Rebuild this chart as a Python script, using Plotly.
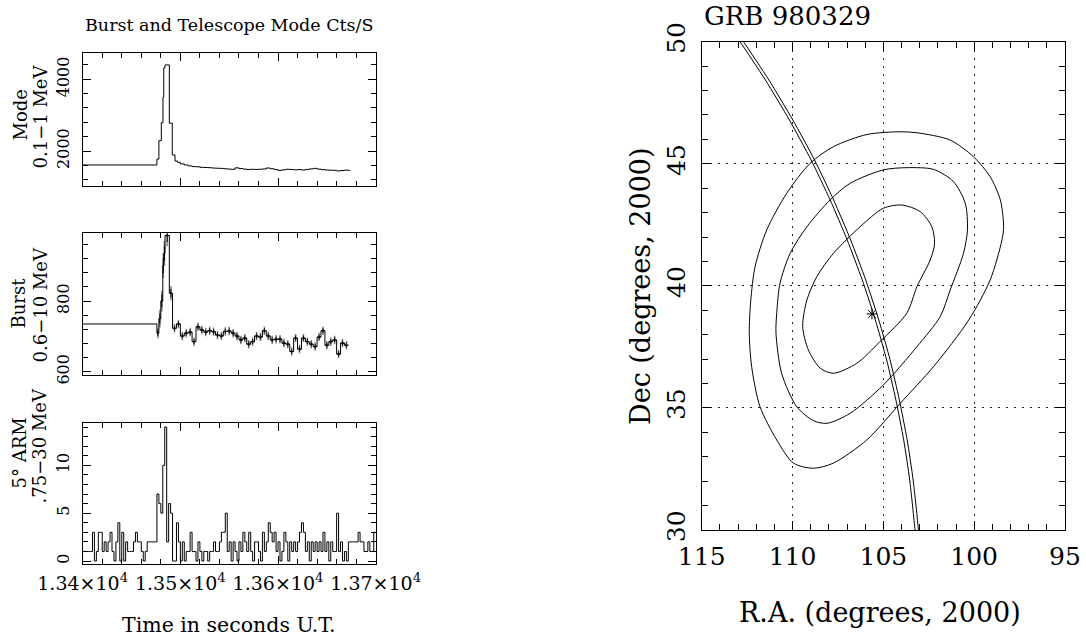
import plotly.graph_objects as go

W, H = 1086, 636
FONT = "DejaVu Serif"

# ---------------- data: telescope mode 0.1-1 MeV ----------------
tele_time = [13400, 13476, 13478, 13480.5, 13482.2, 13483, 13484.3, 13488.7, 13491.7,
             13494.5, 13497,
             13500, 13504, 13508, 13512, 13516, 13520, 13524, 13528, 13532, 13536,
             13540, 13544, 13548, 13552, 13556, 13560, 13564, 13568, 13572, 13576,
             13580, 13584, 13588, 13592, 13596, 13600, 13604, 13608, 13612, 13616,
             13620, 13624, 13628, 13632, 13636, 13640, 13644, 13648, 13652, 13656,
             13660, 13664, 13668, 13672]
tele_counts = [1610, 1775, 2290, 2790, 3500, 4320, 4400, 2775, 1890,
               1720, 1685,
               1640, 1610, 1585, 1565, 1560, 1545, 1540, 1535, 1525, 1520,
               1515, 1505, 1495, 1490, 1530, 1510, 1495, 1485, 1490, 1485,
               1490, 1500, 1525, 1505, 1480, 1460, 1475, 1490, 1485, 1475,
               1480, 1470, 1485, 1500, 1515, 1495, 1480, 1470, 1465, 1460,
               1445, 1455, 1465, 1460]
tele_end = 13674

# ---------------- data: burst mode 0.6-10 MeV ----------------
burst_time = [13400, 13476, 13478, 13480, 13482, 13483, 13484.3, 13488.7,
              13492, 13496, 13500, 13504, 13508, 13512, 13516, 13520, 13524, 13528,
              13532, 13536, 13540, 13544, 13548, 13552, 13556, 13560, 13564, 13568,
              13572, 13576, 13580, 13584, 13588, 13592, 13596, 13600, 13604, 13608,
              13612, 13616, 13620, 13624, 13628, 13632, 13636, 13640, 13644, 13648,
              13652, 13656, 13660, 13664, 13668]
burst_counts = [735, 709, 750, 800, 900, 935, 985, 822,
                723, 735, 701, 709, 712, 685, 727, 718, 712, 716,
                713, 704, 701, 714, 715, 709, 701, 690, 695, 678,
                685, 701, 698, 716, 701, 690, 692, 692, 681, 678,
                657, 695, 664, 695, 685, 678, 671, 698, 716, 675,
                685, 690, 650, 681, 675]
burst_errors = [0, 14, 25, 30, 35, 35, 30, 20,
                12, 12, 12, 12, 12, 12, 12, 12, 12, 12,
                12, 12, 12, 12, 12, 12, 12, 12, 12, 12,
                12, 12, 12, 12, 12, 12, 12, 12, 12, 12,
                12, 12, 12, 12, 12, 12, 12, 12, 12, 12,
                12, 12, 12, 12, 12]
burst_end = 13672

# ---------------- data: 5 deg ARM .75-30 MeV (2 s bins) ----------------
arm_start = 13400
arm_bin = 2
arm_counts = [1, 1, 1, 1, 1, 3, 0, 1, 3, 3,
              1, 2, 1, 2, 3, 1, 0, 2, 4, 0,
              3, 0, 2, 1, 1, 1, 2, 3, 2, 2,
              1, 0, 1, 2, 2, 2, 2, 2, 7, 6,
              5, 10, 14, 2, 6, 5, 0, 0, 4, 2,
              0, 2, 0, 1, 1, 3, 1, 1, 0, 2,
              1, 0, 1, 1, 0, 1, 1, 2, 1, 1,
              2, 3, 3, 5, 1, 2, 0, 2, 1, 0,
              2, 1, 3, 2, 1, 3, 1, 0, 2, 2,
              1, 0, 3, 1, 2, 4, 3, 2, 3, 1,
              2, 0, 1, 3, 2, 0, 2, 1, 2, 1,
              2, 3, 4, 3, 1, 2, 0, 2, 1, 2,
              1, 2, 1, 3, 1, 2, 0, 2, 1, 1,
              5, 1, 2, 0, 1, 0, 2, 2, 2, 2,
              2, 3, 2, 2, 1, 1, 2, 1, 1, 3]

time_ticks = [13400, 13500, 13600, 13700]
time_labels = ["1.34×10<sup>4</sup>", "1.35×10<sup>4</sup>",
               "1.36×10<sup>4</sup>", "1.37×10<sup>4</sup>"]

# ---------------- data: GRB 980329 localisation ----------------
ann1_ra = [113.35, 112.89, 111.49, 110.17, 108.98, 107.93, 106.99, 106.16, 105.44,
           104.82, 104.31, 103.88, 103.55, 103.26, 103.21]
ann1_dec = [50.48, 50.0, 48.43, 46.79, 45.16, 43.52, 41.88, 40.24, 38.60,
            36.97, 35.33, 33.69, 32.05, 30.0, 29.39]
ann2_ra = [113.16, 112.70, 111.30, 109.98, 108.79, 107.74, 106.80, 105.97, 105.25,
           104.63, 104.12, 103.69, 103.36, 103.07, 103.02]
ann2_dec = ann1_dec

outer_ra = [104.08, 103.15, 101.32, 100.04, 99.12, 98.56, 98.38, 98.47, 99.12, 100.3,
            102.24, 104.07, 105.91, 107.75, 108.85, 109.95, 110.87, 111.79, 112.25,
            112.38, 112.3, 112.06, 111.42, 110.32, 109.03, 107.75, 105.9, 104.08]
outer_dec = [46.31, 46.27, 45.97, 45.29, 44.47, 43.52, 42.43, 41.88, 40.24, 38.6,
             36.69, 35.19, 33.69, 32.74, 32.53, 32.74, 33.69, 35.05, 36.69,
             38.06, 39.4, 40.79, 42.29, 43.79, 45.02, 45.7, 46.2, 46.31]

middle_ra = [103.71, 102.24, 101.14, 100.49, 100.37, 100.59, 101.32, 101.87, 103.15,
             105.0, 106.83, 108.11, 108.85, 109.77, 110.6, 110.91, 110.87, 110.69,
             110.13, 109.21, 107.93, 106.83, 105.0, 103.71]
middle_dec = [44.84, 44.77, 44.27, 43.38, 42.29, 41.33, 39.83, 38.74, 37.51,
              35.94, 34.78, 34.37, 34.48, 35.05, 36.42, 38.06, 38.88, 40.1,
              41.33, 42.42, 43.52, 44.2, 44.75, 44.84]

inner_ra = [103.98, 102.97, 102.33, 102.18, 102.42, 103.15, 103.71, 105.18, 106.46,
            107.75, 108.48, 109.13, 109.44, 109.21, 108.66, 107.75, 106.28, 105.0, 103.98]
inner_dec = [43.31, 43.04, 42.42, 41.74, 41.06, 39.97, 38.88, 37.72, 36.83,
             36.42, 36.63, 37.38, 38.33, 39.42, 40.38, 41.33, 42.42, 43.18, 43.31]

star_ra = [105.63]
star_dec = [38.85]


def px_x(p):
    return p / W


def px_y(p):
    return 1 - p / H


fig = go.Figure()
BLACK = "black"

# panel 1 (telescope mode)
fig.add_trace(go.Scatter(x=tele_time + [tele_end], y=tele_counts + [tele_counts[-1]],
                         mode="lines", line=dict(color=BLACK, width=1, shape="hv"),
                         xaxis="x", yaxis="y", showlegend=False))

# panel 2 (burst mode)
b_edges = burst_time + [burst_end]
b_centers = [(b_edges[i] + b_edges[i + 1]) / 2 for i in range(1, len(burst_time))]
b_half = [(b_edges[i + 1] - b_edges[i]) / 2 for i in range(1, len(burst_time))]
fig.add_trace(go.Scatter(x=b_centers, y=burst_counts[1:], mode="markers",
                         marker=dict(size=0.1, color="#888"),
                         error_y=dict(type="data", array=burst_errors[1:], color="#8a8a8a",
                                      thickness=1.6, width=0),
                         xaxis="x2", yaxis="y2", showlegend=False))
fig.add_trace(go.Scatter(x=b_edges, y=burst_counts + [burst_counts[-1]],
                         mode="lines", line=dict(color=BLACK, width=1, shape="hv"),
                         xaxis="x2", yaxis="y2", showlegend=False))
fig.add_trace(go.Scatter(x=b_centers, y=burst_counts[1:], mode="markers",
                         marker=dict(size=0.1, color=BLACK),
                         error_y=dict(type="data", array=[e * 0.6 for e in burst_errors[1:]],
                                      color=BLACK, thickness=1, width=0),
                         error_x=dict(type="data", array=b_half, color=BLACK,
                                      thickness=1, width=0),
                         xaxis="x2", yaxis="y2", showlegend=False))

# panel 3 (ARM)
arm_edges = [arm_start + arm_bin * i for i in range(len(arm_counts) + 1)]
fig.add_trace(go.Scatter(x=arm_edges, y=arm_counts + [arm_counts[-1]],
                         mode="lines", line=dict(color=BLACK, width=1, shape="hv"),
                         xaxis="x3", yaxis="y3", showlegend=False))

# right panel
for ra, dec in [(outer_ra, outer_dec), (middle_ra, middle_dec), (inner_ra, inner_dec)]:
    fig.add_trace(go.Scatter(x=ra, y=dec, mode="lines",
                             line=dict(color=BLACK, width=1, shape="spline", smoothing=0.8),
                             xaxis="x4", yaxis="y4", showlegend=False))
for ra, dec in [(ann1_ra, ann1_dec), (ann2_ra, ann2_dec)]:
    fig.add_trace(go.Scatter(x=ra, y=dec, mode="lines",
                             line=dict(color=BLACK, width=1, shape="spline", smoothing=0.6),
                             xaxis="x4", yaxis="y4", showlegend=False))
fig.add_trace(go.Scatter(x=star_ra, y=star_dec, mode="markers",
                         marker=dict(symbol="asterisk-open", size=9, color=BLACK,
                                     line=dict(color=BLACK, width=1)),
                         xaxis="x4", yaxis="y4", showlegend=False))

tick_font = dict(family=FONT, size=16, color=BLACK)
xtick_font = dict(family=FONT, size=19, color=BLACK)
big_font = dict(family=FONT, size=25, color=BLACK)

left_dom = [px_x(82.7), px_x(375.7)]
common = dict(showline=True, linecolor=BLACK, linewidth=1, mirror="ticks",
              ticks="inside", tickcolor=BLACK, zeroline=False, showgrid=False,
              automargin=False)


def time_axis(anchor, show_labels):
    return dict(domain=left_dom, anchor=anchor, range=[13400, 13700],
                tickmode="array", tickvals=time_ticks, ticktext=time_labels,
                showticklabels=show_labels, ticklen=8, tickfont=xtick_font,
                ticklabelstandoff=2,
                minor=dict(tickmode="linear", tick0=13400, dtick=20, ticks="inside",
                           ticklen=5, tickcolor=BLACK, showgrid=False),
                **common)


grid_dash = "2px,6px"

fig.update_layout(
    width=W, height=H, margin=dict(l=0, r=0, t=0, b=0, autoexpand=False),
    plot_bgcolor="white", paper_bgcolor="white", showlegend=False,
    xaxis=time_axis("y", False),
    xaxis2=time_axis("y2", False),
    xaxis3=time_axis("y3", True),
    yaxis=dict(domain=[px_y(185.7), px_y(52.7)], anchor="x", range=[1032, 4742],
               tickmode="array", tickvals=[2000, 4000], ticklen=8, tickangle=-90,
               tickfont=tick_font, ticklabelstandoff=6,
               minor=dict(tickmode="linear", tick0=2000, dtick=400, ticks="inside",
                          ticklen=5, tickcolor=BLACK, showgrid=False),
               **common),
    yaxis2=dict(domain=[px_y(375), px_y(233.3)], anchor="x2", range=[590.7, 991.5],
                tickmode="array", tickvals=[600, 800], ticklen=8, tickangle=-90,
                tickfont=tick_font, ticklabelstandoff=6,
                minor=dict(tickmode="linear", tick0=600, dtick=40, ticks="inside",
                           ticklen=5, tickcolor=BLACK, showgrid=False),
                **common),
    yaxis3=dict(domain=[px_y(564), px_y(422.7)], anchor="x3", range=[-0.31, 14.45],
                tickmode="array", tickvals=[0, 5, 10], ticklen=8, tickangle=-90,
                tickfont=tick_font, ticklabelstandoff=6,
                minor=dict(tickmode="linear", tick0=0, dtick=1, ticks="inside",
                           ticklen=5, tickcolor=BLACK, showgrid=False),
                **common),
    xaxis4=dict(domain=[px_x(701.7), px_x(1065)], anchor="y4", range=[115, 95],
                tickmode="array", tickvals=[115, 110, 105, 100, 95], ticklen=9,
                tickfont=big_font, ticklabelstandoff=4, automargin=False,
                showline=True, linecolor=BLACK, linewidth=1, mirror="ticks",
                ticks="inside", tickcolor=BLACK, zeroline=False,
                showgrid=True, gridcolor="#222", gridwidth=1, griddash=grid_dash,
                minor=dict(tickmode="linear", tick0=95, dtick=1, ticks="inside",
                           ticklen=6, tickcolor=BLACK, showgrid=False)),
    yaxis4=dict(domain=[px_y(530), px_y(41.7)], anchor="x4", range=[30, 50],
                tickmode="array", tickvals=[30, 35, 40, 45, 50], ticklen=9,
                tickangle=-90, tickfont=big_font, ticklabelstandoff=6, automargin=False,
                showline=True, linecolor=BLACK, linewidth=1, mirror="ticks",
                ticks="inside", tickcolor=BLACK, zeroline=False,
                showgrid=True, gridcolor="#222", gridwidth=1, griddash=grid_dash,
                minor=dict(tickmode="linear", tick0=30, dtick=1, ticks="inside",
                           ticklen=6, tickcolor=BLACK, showgrid=False)),
)

small = dict(family=FONT, size=17.5, color=BLACK)
ylab = dict(family=FONT, size=18, color=BLACK)
annotations = [
    dict(text="Burst and Telescope Mode Cts/S", x=px_x(83), y=px_y(25),
         xanchor="left", yanchor="middle", font=small),
    dict(text="Time in seconds U.T.", x=px_x(229), y=px_y(625),
         xanchor="center", yanchor="middle", font=dict(family=FONT, size=20.5, color=BLACK)),
    dict(text="Mode", x=px_x(19.5), y=px_y(115), textangle=-90,
         xanchor="center", yanchor="middle", font=ylab),
    dict(text="0.1−1 MeV", x=px_x(39.5), y=px_y(117), textangle=-90,
         xanchor="center", yanchor="middle", font=ylab),
    dict(text="Burst", x=px_x(18.5), y=px_y(303), textangle=-90,
         xanchor="center", yanchor="middle", font=ylab),
    dict(text="0.6−10 MeV", x=px_x(39.5), y=px_y(305), textangle=-90,
         xanchor="center", yanchor="middle", font=ylab),
    dict(text="5° ARM", x=px_x(18.5), y=px_y(453), textangle=-90,
         xanchor="center", yanchor="middle", font=ylab),
    dict(text=".75−30 MeV", x=px_x(38.5), y=px_y(446), textangle=-90,
         xanchor="center", yanchor="middle", font=ylab),
    dict(text="GRB 980329", x=px_x(702), y=px_y(16),
         xanchor="left", yanchor="middle", font=dict(family=FONT, size=26, color=BLACK)),
    dict(text="R.A. (degrees, 2000)", x=px_x(880), y=px_y(612),
         xanchor="center", yanchor="middle", font=dict(family=FONT, size=27, color=BLACK)),
    dict(text="Dec (degrees, 2000)", x=px_x(640), y=px_y(286), textangle=-90,
         xanchor="center", yanchor="middle", font=dict(family=FONT, size=27, color=BLACK)),
]
for a in annotations:
    a.update(xref="paper", yref="paper", showarrow=False)
fig.update_layout(annotations=annotations)

fig.write_html("out.html", config={"displayModeBar": False},
               post_script="document.body.style.margin='0';")
